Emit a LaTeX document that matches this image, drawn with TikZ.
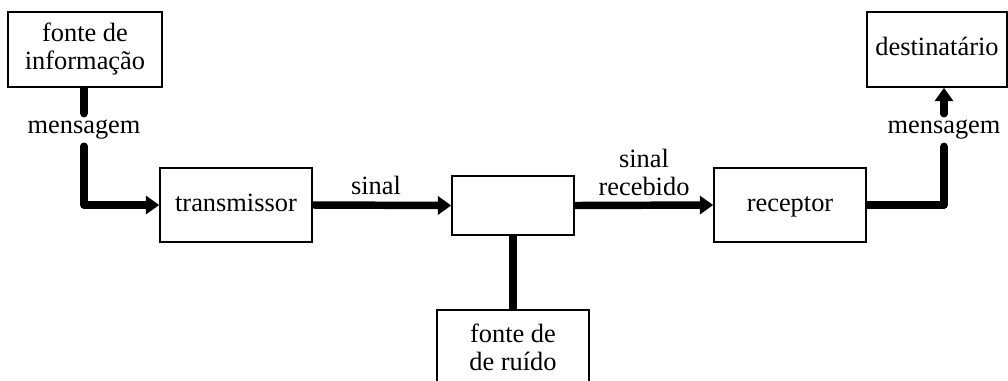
\documentclass[tikz,border=0pt]{standalone}
\usepackage{fontspec}
\setmainfont{Liberation Serif}
\usetikzlibrary{arrows.meta}
\begin{document}
\begin{tikzpicture}[x=0.75pt,y=-0.75pt,
  box/.style={draw,line width=1.2pt,minimum width=#1*0.75pt,inner sep=0pt,align=center,font=\fontsize{19.8}{21}\selectfont},
  one/.style={text height=13.5pt,text depth=4.5pt},
  lbl/.style={inner sep=0pt,align=center,font=\fontsize{19.8}{21}\selectfont},
  conn/.style={line width=5.6pt,line cap=butt,line join=round},
  roundend/.style={fill},
  arr/.style={conn,-{Triangle[length=10pt,width=13.5pt]}}]
\useasboundingbox (0,0) rectangle (1008,380);
\node[box=154,minimum height=56.25pt] (info) at (85,49.5) {fonte de\\informação};
\node[box=152,minimum height=55.5pt,one] (trans) at (236,205) {transmissor};
\node[box=122,minimum height=44.25pt] (mid) at (513,205.5) {};
\node[box=152,minimum height=56.25pt,anchor=north] (noise) at (513,309) {fonte de\\de ruído};
\node[box=152,minimum height=55.5pt,one] (recv) at (790,205) {receptor};
\node[box=140,minimum height=56.25pt,one] (dest) at (937,49.5) {destinatário};
\node[lbl,minimum height=24pt] (m1) at (84,130) {mensagem};
\node[lbl,minimum height=24pt] (m2) at (944,130) {mensagem};
\node[lbl] (s1) at (376,185) {sinal};
\node[lbl] (s2) at (644,172) {sinal\\recebido};
\draw[conn] (info.south -| m1) -- (m1.north);
\fill[roundend] (m1.north) circle[radius=2.8pt];
\draw[arr,line cap=round] (m1.south) |- (trans.west);
\draw[arr] (trans.east) -- (mid.west);
\draw[arr] (mid.east) -- (recv.west);
\draw[conn] (mid.south) -- (noise.north);
\draw[conn] (recv.east) -| (m2.south);
\fill[roundend] (m2.south) circle[radius=2.8pt];
\draw[arr,line cap=round] (m2.north) -- (m2.north |- dest.south);
\end{tikzpicture}
\end{document}
